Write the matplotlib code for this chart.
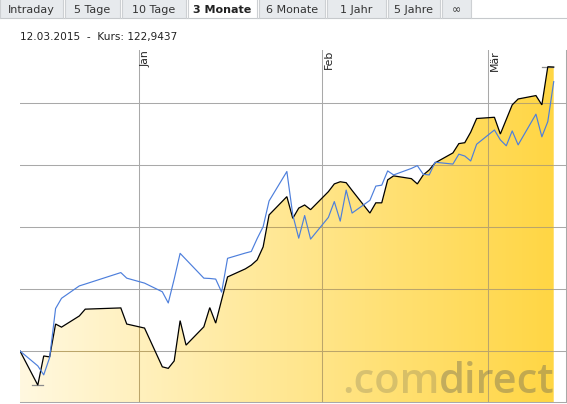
import numpy as np
import matplotlib
matplotlib.use('Agg')
import matplotlib.pyplot as plt
import matplotlib.dates as mdates
from matplotlib.patches import Polygon, Rectangle
from matplotlib.lines import Line2D
from datetime import datetime

# ---------------- data ----------------
dates = [
    "2014-12-12", "2014-12-15", "2014-12-16", "2014-12-17", "2014-12-18", "2014-12-19",
    "2014-12-22", "2014-12-23", "2014-12-29", "2014-12-30",
    "2015-01-02", "2015-01-05", "2015-01-06", "2015-01-07", "2015-01-08", "2015-01-09",
    "2015-01-12", "2015-01-13", "2015-01-14", "2015-01-15", "2015-01-16",
    "2015-01-19", "2015-01-20", "2015-01-21", "2015-01-22", "2015-01-23",
    "2015-01-26", "2015-01-27", "2015-01-28", "2015-01-29", "2015-01-30",
    "2015-02-02", "2015-02-03", "2015-02-04", "2015-02-05", "2015-02-06",
    "2015-02-09", "2015-02-10", "2015-02-11", "2015-02-12", "2015-02-13",
    "2015-02-16", "2015-02-17", "2015-02-18", "2015-02-19", "2015-02-20",
    "2015-02-23", "2015-02-24", "2015-02-25", "2015-02-26", "2015-02-27",
    "2015-03-02", "2015-03-03", "2015-03-04", "2015-03-05", "2015-03-06",
    "2015-03-09", "2015-03-10", "2015-03-11", "2015-03-12",
]

fund = [
    114.00, 112.90, 113.84, 113.81, 114.87, 114.77, 115.13, 115.35, 115.39, 114.87,
    114.74, 113.49, 113.44, 113.68, 114.98, 114.19, 114.78, 115.40, 114.90, 115.65, 116.39,
    116.65, 116.77, 116.94, 117.36, 118.39, 118.98, 118.28, 118.61, 118.71, 118.56,
    119.14, 119.39, 119.46, 119.43, 119.18, 118.45, 118.78, 118.78, 119.52, 119.65,
    119.56, 119.39, 119.68, 119.84, 120.07, 120.39, 120.69, 120.72, 121.06, 121.50,
    121.54, 121.00, 121.47, 121.94, 122.13, 122.24, 121.94, 123.17, 123.16,
]

benchmark = [
    114.00, 113.52, 113.23, 113.79, 115.37, 115.70, 116.10, 116.16, 116.53, 116.35,
    116.19, 115.91, 115.55, 116.32, 117.15, 116.95, 116.35, 116.34, 116.32, 115.90, 116.99,
    117.16, 117.21, 117.63, 118.01, 118.84, 119.79, 118.39, 117.64, 118.37, 117.61,
    118.31, 118.82, 118.19, 119.19, 118.45, 118.86, 119.32, 119.35, 119.81, 119.68,
    119.89, 119.98, 119.70, 119.68, 120.09, 120.03, 120.35, 120.29, 120.13, 120.67,
    121.13, 120.81, 120.62, 121.10, 120.65, 121.64, 120.91, 121.40, 122.69,
]

grid_values = [114, 116, 118, 120, 122]
month_ticks = ["2015-01-01", "2015-02-01", "2015-03-01"]
month_labels = ["Jan", "Feb", "Mär"]
tab_labels = ["Intraday", "5 Tage", "10 Tage", "3 Monate", "6 Monate", "1 Jahr", "5 Jahre", "\u221e"]
active_tab = "3 Monate"
header_text = "12.03.2015  -  Kurs: 122,9437"
watermark = (".com", "direct")

# ---------------- figure ----------------
W, H = 567, 404
fig = plt.figure(figsize=(W / 100, H / 100), dpi=100)
fig.patch.set_facecolor("white")

def fx(px):
    return px / W

def fy(py):
    return 1 - py / H

ax = fig.add_axes([fx(20), fy(402), fx(566) - fx(20), fy(50) - fy(402)])
ax.set_facecolor("white")

xd = mdates.date2num([datetime.strptime(d, "%Y-%m-%d") for d in dates])
fund_a = np.array(fund)
bench_a = np.array(benchmark)

x0 = xd[0]
x1 = x0 + 92.07
y0, y1 = 112.355, 123.71
ax.set_xlim(x0, x1)
ax.set_ylim(y0, y1)

grid_col = "#a9a9a9"
grid_lw = 0.75
mt = mdates.date2num([datetime.strptime(d, "%Y-%m-%d") for d in month_ticks])
for g in grid_values:
    ax.axhline(g, color=grid_col, lw=grid_lw, zorder=1)
for m in mt:
    ax.axvline(m, color=grid_col, lw=grid_lw, zorder=1)

# gradient fill under the fund line
verts = np.vstack([np.column_stack([xd, fund_a]),
                   [[xd[-1], y0], [xd[0], y0]]])
poly = Polygon(verts, closed=True, facecolor="none", edgecolor="none",
               transform=ax.transData)
ax.add_patch(poly)
c_left = np.array([255, 248, 224]) / 255
c_right = np.array([255, 214, 68]) / 255
t = np.linspace(0, 1, 256)
grad = (c_left[None, :] * (1 - t[:, None]) + c_right[None, :] * t[:, None])[None, :, :]
im = ax.imshow(grad, extent=[xd[0], xd[-1], y0, y1], aspect="auto",
               origin="lower", zorder=2, interpolation="bilinear")
im.set_clip_path(poly)

# gridlines seen through the fill
fill_grid = "#bba56a"
for g in grid_values:
    ln = ax.axhline(g, color=fill_grid, lw=grid_lw, zorder=3)
    ln.set_clip_path(poly)
for m in mt:
    ln = ax.axvline(m, color=fill_grid, lw=grid_lw, zorder=3)
    ln.set_clip_path(poly)

# watermark
wm_fp = dict(fontsize=30, family=["Open Sans", "DejaVu Sans"], fontweight="semibold")
t2 = ax.text(0.9795, 0.025, watermark[1], transform=ax.transAxes, ha="right",
             va="baseline", color="#6e6a55", alpha=0.42, zorder=4, **wm_fp)
fig.canvas.draw()
bb = t2.get_window_extent()
inv = ax.transAxes.inverted()
left_ax = inv.transform((bb.x0, bb.y0))[0]
ax.text(left_ax, 0.025, watermark[0], transform=ax.transAxes, ha="right",
        va="baseline", color="#6e6a55", alpha=0.27, zorder=4, **wm_fp)

# lines
ax.plot(xd, fund_a, color="black", lw=0.9, zorder=5, solid_joinstyle="miter")
ax.plot(xd, bench_a, color="#4d7fdc", lw=0.85, zorder=6)

# high / low markers
imax = int(np.argmax(fund_a))
imin = int(np.argmin(fund_a))
for i in (imax, imin):
    ax.plot([xd[i] - 0.9, xd[i] + 0.9], [fund_a[i], fund_a[i]], color="#8c8c8c",
            lw=0.9, zorder=4)

# month labels
for m, lab in zip(mt, month_labels):
    ax.text(m + 0.25, y1, lab, rotation=90, ha="left", va="top", fontsize=7.8,
            color="#222222", zorder=7, family="DejaVu Sans")

# frame: bottom + right only
for s in ["top", "left"]:
    ax.spines[s].set_visible(False)
for s in ["bottom", "right"]:
    ax.spines[s].set_color(grid_col)
    ax.spines[s].set_linewidth(grid_lw)
    ax.spines[s].set_zorder(8)
ax.set_xticks([])
ax.set_yticks([])

# ---------------- tabs ----------------
tab_edges = [(0, 63), (65, 120), (122, 186), (188, 257), (259, 325),
             (327, 386), (388, 440), (442, 471)]
tab_h = 17.5
fig.add_artist(Line2D([0, 1], [fy(tab_h), fy(tab_h)], transform=fig.transFigure,
                      color="#c6c9cc", lw=0.8))
for (a, b), lab in zip(tab_edges, tab_labels):
    act = lab == active_tab
    fc = "white" if act else "#e7eaed"
    r = Rectangle((fx(a), fy(tab_h if not act else tab_h + 1)), fx(b) - fx(a),
                  fy(-1) - fy(tab_h if not act else tab_h + 1),
                  transform=fig.transFigure, facecolor=fc, edgecolor="none")
    fig.add_artist(r)
    for xe in (a, b):
        fig.add_artist(Line2D([fx(xe), fx(xe)], [fy(0), fy(tab_h)],
                              transform=fig.transFigure, color="#cdd0d3", lw=0.8))
    fig.text(fx((a + b) / 2), fy(9.8), lab, ha="center", va="center",
             fontsize=8, color="#222222" if act else "#333333",
             fontweight="bold" if act else "normal", family="DejaVu Sans")

fig.text(fx(19.5), fy(37), header_text, ha="left", va="center", fontsize=7.6,
         color="#222222", family="DejaVu Sans")

fig.savefig("out.png", dpi=100, facecolor="white")
